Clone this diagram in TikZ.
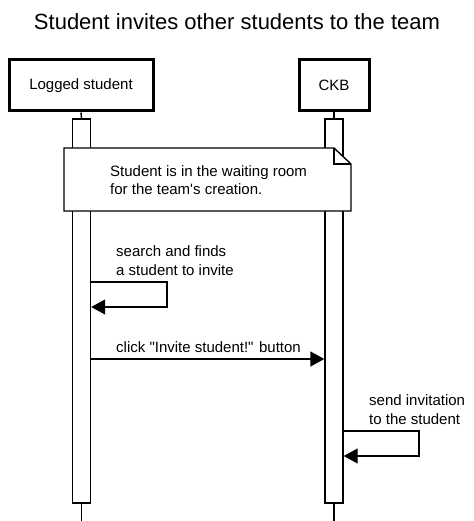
\documentclass[tikz,border=0pt]{standalone}
\usepackage{fontspec}
\setmainfont{Liberation Sans}
\usetikzlibrary{arrows.meta,calc}
\begin{document}
\begin{tikzpicture}[x=1pt,y=-1pt,
  actor/.style={draw,line width=3pt,minimum height=51pt,font=\fontsize{15}{18}\selectfont,inner sep=0},
  bar/.style={draw,fill=white,line width=1.4pt,minimum width=18pt,inner sep=0},
  msg/.style={line width=1.4pt,-{Triangle[length=14pt,width=15pt]}},
  lbl/.style={font=\fontsize{15}{18.5}\selectfont,align=left,anchor=west,inner sep=0},
  life/.style={line width=1.4pt},
  notebox/.style={line width=1.4pt,fill=white}]
\useasboundingbox (0,0) rectangle (473,521);
\node[font=\fontsize{22}{26}\selectfont] (title) at (237,22) {Student invites other students to the team};
\node[actor,minimum width=144pt] (A) at (81,85.5) {Logged student};
\node[actor,minimum width=70pt] (B) at (334,85.5) {CKB};
\node[bar,minimum height=384pt] (barA) at (81.5,311) {};
\node[bar,minimum height=384pt] (barB) at (334,311) {};
\coordinate (endA) at (81.5,521);
\coordinate (endB) at (334,521);
\draw[life] (A.south) -- (barA.north);
\draw[life] (B.south) -- (barB.north);
\draw[life] (barA.south) -- (endA);
\draw[life] (barB.south) -- (endB);
% note
\coordinate (n1) at (64,148);
\coordinate (n2) at (351,211);
\draw[notebox] (n1) -- (334,148) -- (351,164) -- (n2 |- 0,211) -- (64,211) -- cycle;
\draw[line width=1.4pt] (334,148) -- (334,164) -- (351,164);
\node[lbl] (note) at (110,180) {Student is in the waiting room\\for the team\textquotesingle s creation.};
% message 1
\coordinate (y1a) at (0,282);
\coordinate (y1b) at (0,307);
\coordinate (x1) at (167,0);
\draw[msg] (barA.east |- y1a) -- (x1 |- y1a) -- (x1 |- y1b) -- (barA.east |- y1b);
\node[lbl] (l1) at (116,260.5) {search and finds\\a student to invite};
% message 2
\coordinate (y2) at (0,359);
\draw[msg] (barA.east |- y2) -- (barB.west |- y2);
\node[lbl] (l2) at (116,347) {click \textquotedbl Invite student!\textquotedbl{} button};
% message 3
\coordinate (y3a) at (0,431);
\coordinate (y3b) at (0,456);
\coordinate (x3) at (419,0);
\draw[msg] (barB.east |- y3a) -- (x3 |- y3a) -- (x3 |- y3b) -- (barB.east |- y3b);
\node[lbl] (l3) at (369,409.5) {send invitation\\to the student};
\end{tikzpicture}
\end{document}
